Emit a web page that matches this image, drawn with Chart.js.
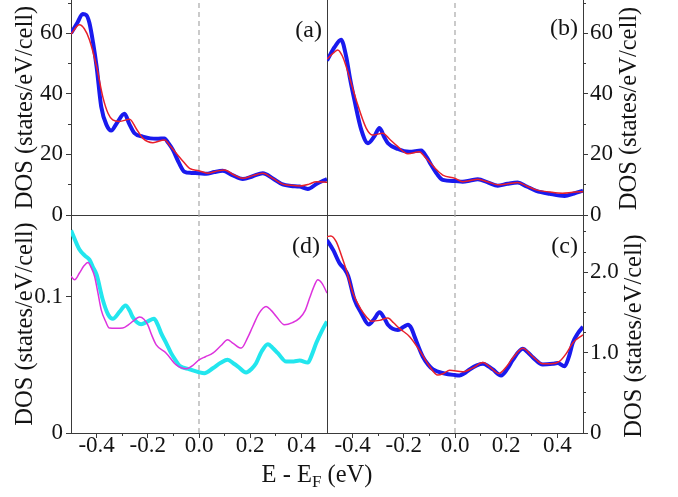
<!DOCTYPE html>
<html><head><meta charset="utf-8">
<script src="https://cdn.jsdelivr.net/npm/chart.js@4/dist/chart.umd.min.js"></script>
<style>
html,body{margin:0;padding:0;background:#fff;}
#wrap{position:relative;width:678px;height:497px;background:#fff;overflow:hidden;}
#wrap canvas{position:absolute;left:0;top:0;}
</style></head><body>
<div id="wrap">
<canvas id="ca" width="678" height="497"></canvas>
<canvas id="cb" width="678" height="497"></canvas>
<canvas id="cd" width="678" height="497"></canvas>
<canvas id="cc" width="678" height="497"></canvas>
</div>
<script>
// ---------- data ----------
const X_RANGE = [-0.5, 0.5];
const X_MAJOR = [-0.4, -0.2, 0, 0.2, 0.4];
const X_LABELS = ['-0.4', '-0.2', '0.0', '0.2', '0.4'];
const X_MINOR = [-0.3, -0.1, 0.1, 0.3];
const Y_TITLE = 'DOS (states/eV/cell)';
const X_TITLE = ['E - E', 'F', ' (eV)'];
const PANEL_LABELS = ['(a)', '(b)', '(c)', '(d)'];

const TOP_MAX = 71;
const TOP_MAJOR = [0, 20, 40, 60];
const TOP_LABELS = ['0', '20', '40', '60'];
const TOP_MINOR = [10, 30, 50, 70];

const D_MAX = 0.16;
const D_MAJOR = [0, 0.1];
const D_LABELS = ['0', '0.1'];
const D_MINOR = [];

const C_MAX = 2.71;
const C_MAJOR = [0, 1, 2];
const C_LABELS = ['0', '1.0', '2.0'];
const C_MINOR = [0.25, 0.5, 0.75, 1.25, 1.5, 1.75, 2.25, 2.5];

// panel (a)
const aBlueE = [-0.5,-0.475,-0.454,-0.44,-0.428,-0.414,-0.4,-0.382,-0.36,-0.343,-0.32,-0.291,-0.272,-0.252,-0.22,-0.19,-0.16,-0.135,-0.12,-0.102,-0.08,-0.057,-0.03,0,0.028,0.06,0.093,0.13,0.171,0.21,0.249,0.29,0.327,0.36,0.393,0.425,0.46,0.5];
const aBlueDOS = [60.0,63.5,66.4,66.0,63.4,57,49,35.8,29.5,27.9,30.5,33.4,30,27.0,25.9,25.3,25.2,25.3,23.8,21.5,17.5,14.3,13.9,13.8,13.6,14.2,14.6,13.2,11.9,12.8,13.8,12,10.1,9.6,9.4,8.6,10.3,11.9];
const aRedE = [-0.5,-0.467,-0.448,-0.428,-0.4,-0.376,-0.355,-0.337,-0.311,-0.271,-0.245,-0.22,-0.18,-0.135,-0.11,-0.089,-0.06,-0.037,0,0.034,0.065,0.1,0.135,0.171,0.21,0.249,0.29,0.327,0.36,0.393,0.43,0.458,0.5];
const aRedDOS = [59.7,62.8,61.5,57.9,49,39.1,33.5,31.4,30.9,31.6,28.5,25.4,23.9,24.8,22.5,20.4,17.5,15.4,14.6,13.8,14.4,14.9,13.3,12.1,13.0,13.8,12.0,10.2,9.8,9.6,10.2,11.0,10.8];

// panel (b)
const bBlueE = [-0.5,-0.47,-0.445,-0.425,-0.41,-0.393,-0.366,-0.34,-0.315,-0.295,-0.275,-0.262,-0.223,-0.178,-0.132,-0.11,-0.093,-0.07,-0.048,0,0.03,0.06,0.089,0.13,0.167,0.205,0.245,0.28,0.317,0.37,0.428,0.465,0.5];
const bBlueDOS = [51,55.5,57.9,52.3,45,38.0,28.1,23.7,26,28.7,25.5,23.7,21.8,20.9,21.3,19,16.5,13.5,11.6,11.2,11.0,11.4,11.8,10.7,9.7,10.3,10.7,9.4,8.0,7.0,6.3,7.1,8.0];
const bRedE = [-0.5,-0.475,-0.458,-0.44,-0.425,-0.386,-0.347,-0.321,-0.282,-0.255,-0.23,-0.184,-0.139,-0.12,-0.1,-0.075,-0.048,0,0.03,0.06,0.089,0.13,0.167,0.205,0.245,0.28,0.317,0.37,0.42,0.46,0.5];
const bRedDOS = [51.5,53.5,54.5,52.5,49.0,38.0,28.7,26.4,27.0,25,23.1,20.2,20.9,19.4,17.6,15.2,13.2,12.1,11.0,11.4,11.8,10.9,10.0,10.3,10.7,9.6,8.3,7.6,7.2,7.5,7.7];

// panel (d)
const dCyanE = [-0.5,-0.467,-0.445,-0.428,-0.415,-0.4,-0.376,-0.355,-0.337,-0.31,-0.287,-0.27,-0.259,-0.226,-0.2,-0.176,-0.16,-0.148,-0.128,-0.109,-0.09,-0.076,-0.037,0,0.021,0.054,0.085,0.112,0.135,0.152,0.184,0.205,0.223,0.245,0.269,0.29,0.308,0.341,0.37,0.393,0.425,0.44,0.458,0.48,0.5];
const dCyanDOS = [0.1488,0.1346,0.1300,0.1272,0.1220,0.1162,0.0978,0.0870,0.0838,0.0890,0.0936,0.0895,0.0851,0.0799,0.0819,0.0838,0.0790,0.0733,0.0660,0.0586,0.0530,0.0493,0.0468,0.0446,0.0439,0.0475,0.0515,0.0537,0.0510,0.0488,0.0444,0.0470,0.0512,0.0600,0.0652,0.0620,0.0586,0.0524,0.0525,0.0532,0.0517,0.0570,0.0660,0.0750,0.0819];
const dMagE = [-0.5,-0.486,-0.467,-0.45,-0.434,-0.42,-0.408,-0.395,-0.382,-0.365,-0.35,-0.325,-0.298,-0.275,-0.259,-0.232,-0.215,-0.2,-0.185,-0.167,-0.128,-0.089,-0.05,-0.025,0,0.025,0.054,0.085,0.112,0.132,0.165,0.19,0.21,0.235,0.262,0.282,0.302,0.334,0.365,0.393,0.415,0.432,0.45,0.464,0.48,0.5];
const dMagDOS = [0.1150,0.1125,0.1174,0.1225,0.1252,0.1210,0.1150,0.1030,0.0904,0.0820,0.0770,0.0768,0.0770,0.0795,0.0819,0.0851,0.0835,0.0794,0.0720,0.0647,0.0586,0.0500,0.0471,0.0495,0.0537,0.0560,0.0586,0.0640,0.0684,0.0660,0.0623,0.0700,0.0782,0.0880,0.0929,0.0900,0.0855,0.0794,0.0810,0.0843,0.0900,0.0990,0.1080,0.1125,0.1100,0.1027];

// panel (c)
const cBlueE = [-0.5,-0.475,-0.451,-0.432,-0.417,-0.393,-0.366,-0.337,-0.315,-0.295,-0.275,-0.262,-0.223,-0.2,-0.184,-0.17,-0.158,-0.126,-0.105,-0.086,-0.041,0,0.018,0.035,0.057,0.085,0.109,0.13,0.148,0.18,0.205,0.226,0.265,0.285,0.304,0.343,0.382,0.401,0.428,0.445,0.46,0.48,0.5];
const cBlueDOS = [2.40,2.27,2.11,2.04,1.95,1.66,1.49,1.35,1.42,1.50,1.42,1.345,1.28,1.32,1.345,1.30,1.20,0.95,0.85,0.79,0.74,0.72,0.715,0.74,0.79,0.84,0.86,0.83,0.79,0.715,0.80,0.91,1.046,1.00,0.94,0.85,0.86,0.87,0.83,0.95,1.12,1.24,1.32];
const cRedE = [-0.5,-0.485,-0.464,-0.445,-0.425,-0.399,-0.366,-0.345,-0.327,-0.295,-0.262,-0.24,-0.217,-0.178,-0.139,-0.1,-0.067,-0.045,-0.021,0.03,0.07,0.109,0.14,0.171,0.2,0.23,0.265,0.3,0.343,0.375,0.408,0.435,0.46,0.5];
const cRedDOS = [2.44,2.45,2.38,2.22,2.03,1.74,1.53,1.44,1.39,1.40,1.43,1.37,1.30,1.20,1.03,0.83,0.72,0.74,0.78,0.76,0.81,0.875,0.81,0.74,0.82,0.95,1.055,0.96,0.86,0.86,0.89,0.99,1.12,1.22];

// ---------- style ----------
const FONT = "'Liberation Serif', 'Times New Roman', Times, serif";
const TEXT = '#141414';
const AXIS = '#3a3a3a';
const BLUE = '#1a1aee';
const RED = '#e8202a';
const CYAN = '#22e6ee';
const MAGENTA = '#dd33dd';
const W = 678, HGT = 497;
const TICK_PX = 23, TITLE_PX = 24.5, LABEL_PX = 24;

function pts(xs, ys) { return xs.map((x, i) => ({x: x, y: ys[i]})); }
function zero(s) { s.paddingLeft = 0; s.paddingRight = 0; s.paddingTop = 0; s.paddingBottom = 0; }

function makePanel(id, c) {
  const left = c.side === 'left';
  const axisW = left ? c.area.l : W - c.area.r;
  const xH = c.showX ? HGT - c.area.b : 0;
  const pad = {
    left: left ? 0 : c.area.l,
    right: left ? W - c.area.r : 0,
    top: c.area.t,
    bottom: c.showX ? 0 : HGT - c.area.b
  };
  const tickFont = {family: FONT, size: TICK_PX};
  const scales = {
    x: {
      type: 'linear', position: 'bottom', min: X_RANGE[0], max: X_RANGE[1], weight: 1,
      afterBuildTicks: s => { s.ticks = X_MAJOR.map(v => ({value: v})); },
      ticks: {display: c.showX, autoSkip: false, maxRotation: 0, padding: -6, color: TEXT, font: tickFont,
        callback: (v, i) => X_LABELS[i]},
      grid: {display: c.showX, drawOnChartArea: false, drawTicks: true, tickLength: 5, tickColor: AXIS, tickWidth: 1, lineWidth: 1, color: AXIS},
      border: {display: true, color: AXIS, width: 1},
      afterFit: s => { s.height = xH; zero(s); }
    },
    y: {
      type: 'linear', position: c.side, min: 0, max: c.yMax, weight: 1,
      afterBuildTicks: s => { s.ticks = c.yMajor.map(v => ({value: v})); },
      ticks: {autoSkip: false, padding: left ? 3 : 2, color: TEXT, font: tickFont,
        callback: (v, i) => c.yLabels[i]},
      grid: {display: true, drawOnChartArea: false, drawTicks: true, tickLength: 5, tickColor: AXIS, tickWidth: 1, lineWidth: 1, color: AXIS},
      border: {display: true, color: AXIS, width: 1},
      title: left ? {display: true, text: Y_TITLE, color: TEXT, font: {family: FONT, size: TITLE_PX}, padding: {top: 11, bottom: 0}} : {display: false},
      afterFit: s => { s.width = axisW; zero(s); }
    }
  };
  if (c.showX) {
    scales.xm = {
      type: 'linear', position: 'bottom', min: X_RANGE[0], max: X_RANGE[1], weight: 0,
      afterBuildTicks: s => { s.ticks = X_MINOR.map(v => ({value: v})); },
      ticks: {display: false},
      grid: {display: true, drawOnChartArea: false, drawTicks: true, tickLength: 3, tickColor: AXIS, tickWidth: 1, lineWidth: 1, color: AXIS},
      border: {display: false},
      afterFit: s => { s.height = 0; zero(s); }
    };
  }
  if (c.yMinor.length) {
    scales.ym = {
      type: 'linear', position: c.side, min: 0, max: c.yMax, weight: 0,
      afterBuildTicks: s => { s.ticks = c.yMinor.map(v => ({value: v})); },
      ticks: {display: false},
      grid: {display: true, drawOnChartArea: false, drawTicks: true, tickLength: 3, tickColor: AXIS, tickWidth: 1, lineWidth: 1, color: AXIS},
      border: {display: false},
      afterFit: s => { s.width = 0; zero(s); }
    };
  }
  if (c.otherBorder) {
    scales.yb = {
      type: 'linear', position: left ? 'right' : 'left', min: 0, max: c.yMax, weight: 0,
      ticks: {display: false}, grid: {display: false},
      border: {display: true, color: AXIS, width: 1},
      afterFit: s => { s.width = 0; zero(s); }
    };
  }
  const textPlugin = {
    id: 'panelText',
    afterDraw(chart) {
      const ctx = chart.ctx, ca = chart.chartArea;
      ctx.save();
      ctx.fillStyle = TEXT;
      ctx.font = LABEL_PX + 'px ' + FONT;
      ctx.textAlign = 'right'; ctx.textBaseline = 'middle';
      ctx.fillText(c.label, ca.right - c.labelDx, ca.top + c.labelDy);
      if (c.rightTitle) {
        ctx.save();
        ctx.translate(ca.right + c.rightTitle.dx, (ca.top + ca.bottom) / 2 + c.rightTitle.dy);
        ctx.rotate(-Math.PI / 2);
        ctx.textAlign = 'center'; ctx.textBaseline = 'middle';
        ctx.font = TITLE_PX + 'px ' + FONT;
        ctx.fillText(Y_TITLE, 0, 0);
        ctx.restore();
      }
      if (c.xTitle) {
        const big = TITLE_PX + 'px ' + FONT, small = '17px ' + FONT;
        ctx.font = big; const w1 = ctx.measureText(X_TITLE[0]).width; const w3 = ctx.measureText(X_TITLE[2]).width;
        ctx.font = small; const w2 = ctx.measureText(X_TITLE[1]).width;
        let x0 = c.xTitle.cx - (w1 + w2 + w3) / 2;
        const base = c.xTitle.base;
        ctx.textAlign = 'left'; ctx.textBaseline = 'alphabetic';
        ctx.font = big; ctx.fillText(X_TITLE[0], x0, base);
        ctx.font = small; ctx.fillText(X_TITLE[1], x0 + w1, base + 5);
        ctx.font = big; ctx.fillText(X_TITLE[2], x0 + w1 + w2, base);
      }
      ctx.restore();
    }
  };
  const ds = (data, color, width, dash) => ({
    data: data, borderColor: color, backgroundColor: color, borderWidth: width, borderDash: dash || [],
    pointRadius: 0, fill: false, cubicInterpolationMode: 'monotone', xAxisID: 'x', yAxisID: 'y'
  });
  return new Chart(document.getElementById(id), {
    type: 'line',
    data: {datasets: [
      ds(pts(c.thin.e, c.thin.v), c.thin.color, 1.5),
      ds(pts(c.thick.e, c.thick.v), c.thick.color, 4),
      Object.assign(ds([{x: 0, y: 0}, {x: 0, y: c.yMax}], '#a8a8a8', 1.2, [5, 4]), {cubicInterpolationMode: 'default', tension: 0})
    ]},
    options: {
      responsive: false, animation: false, events: [],
      layout: {padding: pad, autoPadding: false},
      plugins: {legend: {display: false}, tooltip: {enabled: false}, title: {display: false}},
      scales: scales
    },
    plugins: [textPlugin]
  });
}

makePanel('ca', {side: 'left', area: {l: 71, t: 0, r: 327, b: 215}, showX: false, yMax: TOP_MAX,
  yMajor: TOP_MAJOR, yLabels: TOP_LABELS, yMinor: TOP_MINOR, otherBorder: true,
  thin: {e: aRedE, v: aRedDOS, color: RED}, thick: {e: aBlueE, v: aBlueDOS, color: BLUE},
  label: PANEL_LABELS[0], labelDx: 5, labelDy: 31});
makePanel('cb', {side: 'right', area: {l: 327, t: 0, r: 583, b: 215}, showX: false, yMax: TOP_MAX,
  yMajor: TOP_MAJOR, yLabels: TOP_LABELS, yMinor: TOP_MINOR, otherBorder: false,
  thin: {e: bRedE, v: bRedDOS, color: RED}, thick: {e: bBlueE, v: bBlueDOS, color: BLUE},
  label: PANEL_LABELS[1], labelDx: 5, labelDy: 29, rightTitle: {dx: 47, dy: 1}});
makePanel('cd', {side: 'left', area: {l: 71, t: 215, r: 327, b: 433}, showX: true, yMax: D_MAX,
  yMajor: D_MAJOR, yLabels: D_LABELS, yMinor: D_MINOR, otherBorder: true,
  thin: {e: dMagE, v: dMagDOS, color: MAGENTA}, thick: {e: dCyanE, v: dCyanDOS, color: CYAN},
  label: PANEL_LABELS[3], labelDx: 7, labelDy: 32, xTitle: {cx: 317, base: 482}});
makePanel('cc', {side: 'right', area: {l: 327, t: 215, r: 583, b: 433}, showX: true, yMax: C_MAX,
  yMajor: C_MAJOR, yLabels: C_LABELS, yMinor: C_MINOR, otherBorder: false,
  thin: {e: cRedE, v: cRedDOS, color: RED}, thick: {e: cBlueE, v: cBlueDOS, color: BLUE},
  label: PANEL_LABELS[2], labelDx: 5, labelDy: 32, rightTitle: {dx: 52, dy: 12}});
</script>
</body></html>
